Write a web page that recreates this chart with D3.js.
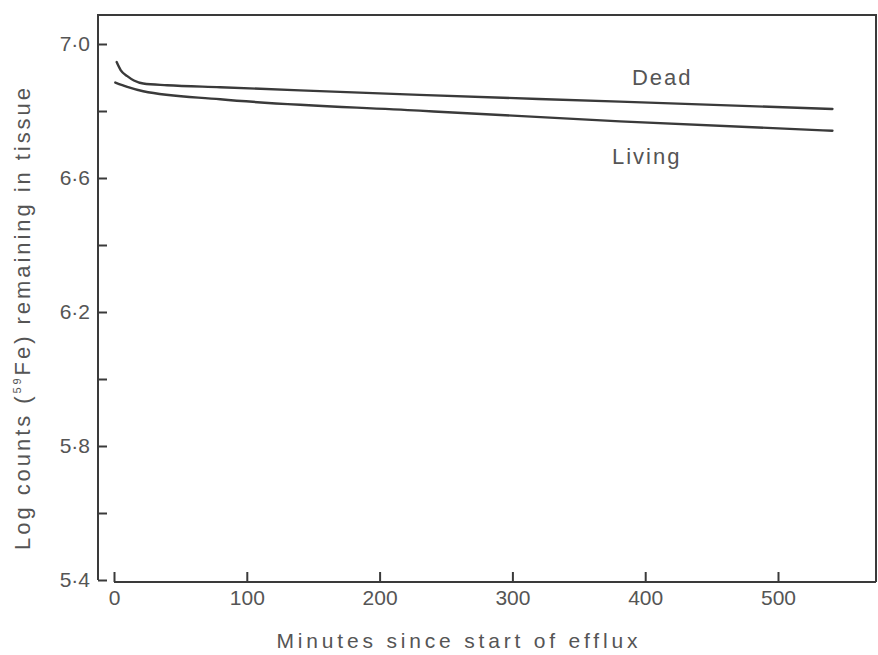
<!DOCTYPE html>
<html>
<head>
<meta charset="utf-8">
<script src="https://cdn.jsdelivr.net/npm/d3@7"></script>
<style>
  html, body { margin: 0; padding: 0; background: #fff; }
  svg { display: block; }
  text { font-family: "Liberation Sans", Arial, Helvetica, sans-serif; fill: #555; }
</style>
</head>
<body>
<svg id="chart" width="878" height="655"></svg>
<script>
// Efflux of 59Fe from tissue: log counts remaining over time
const deadMinutes   = [2, 5, 10, 15, 22, 40, 80, 230, 381, 541];
const deadLogCounts = [6.946, 6.922, 6.904, 6.891, 6.882, 6.877, 6.871, 6.848, 6.828, 6.806];

const livingMinutes   = [1, 10, 22, 80, 230, 381, 541];
const livingLogCounts = [6.885, 6.872, 6.859, 6.835, 6.801, 6.769, 6.741];

const xTickValues = [0, 100, 200, 300, 400, 500];
const yTickValues = [5.4, 5.6, 5.8, 6.0, 6.2, 6.4, 6.6, 6.8, 7.0];
const yLabelledTicks = [5.4, 5.8, 6.2, 6.6, 7.0];

const seriesLabels = [
  { name: "Dead",   minute: 390, value: 6.878 },
  { name: "Living", minute: 375, value: 6.642 }
];

const svg = d3.select("#chart");
const ink = "#3a3a3a";
const textInk = "#555";

const x = d3.scaleLinear().domain([0, 500]).range([114, 778]);
const y = d3.scaleLinear().domain([5.4, 7.0]).range([580, 44]);

// frame: left axis rising to the top border, top border, right border
const frameLeft = 98, frameTop = 15, frameRight = 876, xAxisY = 582;
svg.append("path")
  .attr("d", `M${frameLeft},${y(5.4)} V${frameTop} H${frameRight} V${xAxisY}`)
  .attr("fill", "none").attr("stroke", ink).attr("stroke-width", 2);

// y axis with inward ticks every 0.2, labels every 0.4
const fmtY = v => yLabelledTicks.some(t => Math.abs(t - v) < 1e-9)
  ? d3.format(".1f")(v).replace(".", "\u00B7") : "";
const yAxis = svg.append("g")
  .attr("transform", `translate(${frameLeft},0)`)
  .call(d3.axisLeft(y).tickValues(yTickValues).tickSizeInner(-9).tickSizeOuter(0)
    .tickPadding(8).tickFormat(fmtY));
yAxis.select(".domain").remove();
yAxis.selectAll(".tick line").attr("stroke", ink).attr("stroke-width", 2);
yAxis.selectAll(".tick text").attr("font-size", 21).style("fill", textInk)
  .attr("font-family", "'Liberation Sans', Arial, sans-serif");

// x axis, offset from the y axis, with upward ticks
const xAxis = svg.append("g")
  .attr("transform", `translate(0,${xAxisY})`)
  .call(d3.axisBottom(x).tickValues(xTickValues).tickSizeInner(-10).tickSizeOuter(0)
    .tickPadding(8).tickFormat(d3.format("d")));
xAxis.select(".domain").remove();
xAxis.append("line")
  .attr("x1", x(0)).attr("x2", frameRight).attr("y1", 0).attr("y2", 0)
  .attr("stroke", ink).attr("stroke-width", 2);
xAxis.selectAll(".tick line").attr("stroke", ink).attr("stroke-width", 2);
xAxis.selectAll(".tick text").attr("font-size", 21).style("fill", textInk)
  .attr("font-family", "'Liberation Sans', Arial, sans-serif");

// series curves
const line = d3.line().x(d => x(d[0])).y(d => y(d[1])).curve(d3.curveMonotoneX);
const series = [
  d3.zip(deadMinutes, deadLogCounts),
  d3.zip(livingMinutes, livingLogCounts)
];
svg.selectAll("path.series").data(series).enter().append("path")
  .attr("class", "series")
  .attr("d", line)
  .attr("fill", "none").attr("stroke", ink).attr("stroke-width", 2.4)
  .attr("stroke-linecap", "round");

// series names
svg.selectAll("text.series-label").data(seriesLabels).enter().append("text")
  .attr("class", "series-label")
  .attr("x", d => x(d.minute)).attr("y", d => y(d.value))
  .attr("font-size", 22).attr("letter-spacing", 2)
  .text(d => d.name);

// axis titles
svg.append("text")
  .attr("x", 457).attr("y", 648)
  .attr("text-anchor", "middle")
  .attr("font-size", 21)
  .attr("textLength", 361).attr("lengthAdjust", "spacing")
  .text("Minutes since start of efflux");

const yTitle = svg.append("text")
  .attr("transform", "translate(30,319) rotate(-90)")
  .attr("text-anchor", "middle")
  .attr("font-size", 22)
  .attr("textLength", 462).attr("lengthAdjust", "spacing");
yTitle.append("tspan").text("Log counts (");
yTitle.append("tspan").attr("font-size", 11).attr("dy", -9).text("59");
yTitle.append("tspan").attr("dy", 9).text("Fe) remaining in tissue");
</script>
</body>
</html>
